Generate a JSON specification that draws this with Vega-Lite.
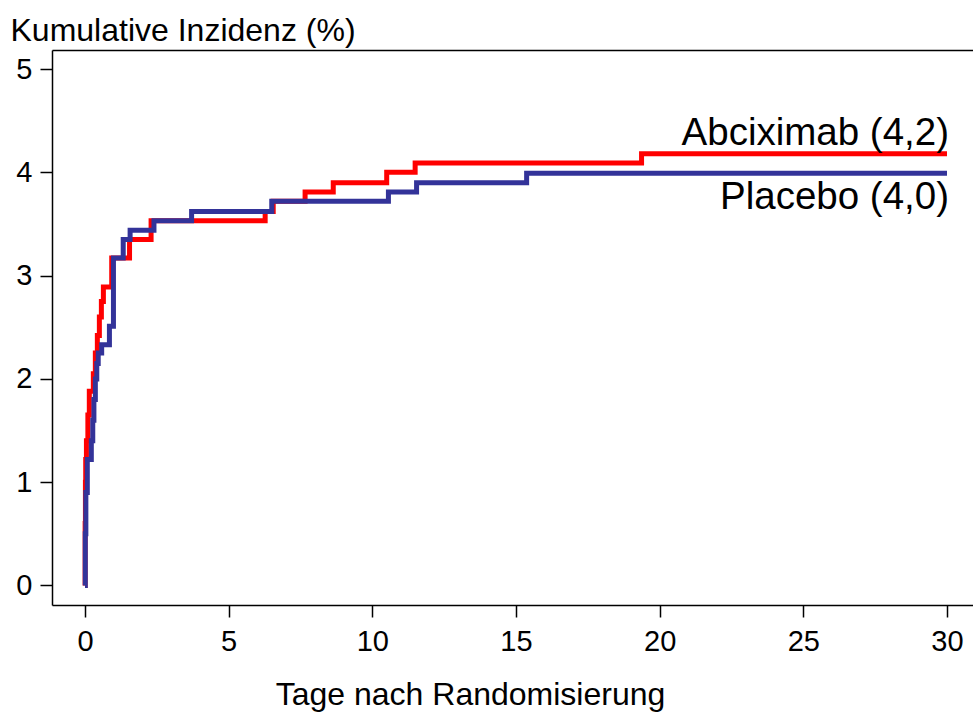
{
  "$schema": "https://vega.github.io/schema/vega-lite/v6.json",
  "width": 921,
  "height": 555,
  "autosize": "none",
  "padding": {"left": 52, "top": 50, "right": 0, "bottom": 107},
  "background": "white",
  "config": {
    "view": {"stroke": null},
    "font": "Liberation Sans",
    "axis": {
      "domainColor": "black",
      "domainWidth": 1.5,
      "tickColor": "black",
      "tickWidth": 1.5,
      "tickSize": 12,
      "labelColor": "black",
      "labelFontSize": 29,
      "labelFont": "Liberation Sans",
      "titleFont": "Liberation Sans",
      "titleColor": "black",
      "titleFontWeight": "normal",
      "titleFontSize": 32,
      "grid": false
    }
  },
  "datasets": {
    "curves": [
      {"group": "Abciximab", "day": 0, "pct": 0},
      {"group": "Abciximab", "day": 0.005, "pct": 0.6},
      {"group": "Abciximab", "day": 0.015, "pct": 1.0},
      {"group": "Abciximab", "day": 0.025, "pct": 1.22},
      {"group": "Abciximab", "day": 0.05, "pct": 1.4},
      {"group": "Abciximab", "day": 0.1, "pct": 1.65},
      {"group": "Abciximab", "day": 0.15, "pct": 1.88},
      {"group": "Abciximab", "day": 0.29, "pct": 2.05},
      {"group": "Abciximab", "day": 0.36, "pct": 2.25},
      {"group": "Abciximab", "day": 0.43, "pct": 2.42},
      {"group": "Abciximab", "day": 0.5, "pct": 2.6},
      {"group": "Abciximab", "day": 0.57, "pct": 2.75},
      {"group": "Abciximab", "day": 0.64, "pct": 2.89},
      {"group": "Abciximab", "day": 0.93, "pct": 3.17},
      {"group": "Abciximab", "day": 1.55, "pct": 3.35},
      {"group": "Abciximab", "day": 2.3, "pct": 3.53},
      {"group": "Abciximab", "day": 6.27, "pct": 3.62},
      {"group": "Abciximab", "day": 6.55, "pct": 3.72},
      {"group": "Abciximab", "day": 7.66, "pct": 3.81},
      {"group": "Abciximab", "day": 8.64, "pct": 3.9},
      {"group": "Abciximab", "day": 10.5, "pct": 4.0},
      {"group": "Abciximab", "day": 11.49, "pct": 4.09},
      {"group": "Abciximab", "day": 19.37, "pct": 4.18},
      {"group": "Abciximab", "day": 30, "pct": 4.18},
      {"group": "Placebo", "day": 0, "pct": 0},
      {"group": "Placebo", "day": 0.01, "pct": 0.5},
      {"group": "Placebo", "day": 0.03, "pct": 0.9},
      {"group": "Placebo", "day": 0.08, "pct": 1.22},
      {"group": "Placebo", "day": 0.22, "pct": 1.4},
      {"group": "Placebo", "day": 0.27, "pct": 1.6},
      {"group": "Placebo", "day": 0.31, "pct": 1.8},
      {"group": "Placebo", "day": 0.36, "pct": 2.0},
      {"group": "Placebo", "day": 0.41, "pct": 2.15},
      {"group": "Placebo", "day": 0.46, "pct": 2.25},
      {"group": "Placebo", "day": 0.58, "pct": 2.33},
      {"group": "Placebo", "day": 0.85, "pct": 2.51},
      {"group": "Placebo", "day": 0.99, "pct": 3.17},
      {"group": "Placebo", "day": 1.33, "pct": 3.35},
      {"group": "Placebo", "day": 1.57, "pct": 3.44},
      {"group": "Placebo", "day": 2.4, "pct": 3.53},
      {"group": "Placebo", "day": 3.71, "pct": 3.62},
      {"group": "Placebo", "day": 6.5, "pct": 3.72},
      {"group": "Placebo", "day": 10.56, "pct": 3.81},
      {"group": "Placebo", "day": 11.54, "pct": 3.9},
      {"group": "Placebo", "day": 15.37, "pct": 3.99},
      {"group": "Placebo", "day": 30, "pct": 3.99}
    ],
    "labels": [
      {"group": "Abciximab", "label": "Abciximab (4,2)", "day": 30, "pct": 4.18},
      {"group": "Placebo", "label": "Placebo (4,0)", "day": 30, "pct": 3.99}
    ]
  },
  "resolve": {"axis": {"x": "independent"}},
  "layer": [
    {
      "data": {"name": "curves"},
      "mark": {"type": "line", "interpolate": "step-after", "strokeWidth": 5, "strokeCap": "butt", "strokeJoin": "miter"},
      "encoding": {
        "x": {
          "field": "day",
          "type": "quantitative",
          "scale": {"domain": [-1.1485, 30.905], "nice": false, "zero": false},
          "axis": {
            "orient": "bottom",
            "values": [0, 5, 10, 15, 20, 25, 30],
            "format": "d",
            "labelPadding": 10,
            "title": "Tage nach Randomisierung",
            "titleX": 418,
            "titleY": 99,
            "titleAlign": "center",
            "titleBaseline": "alphabetic",
            "titleAnchor": null
          }
        },
        "y": {
          "field": "pct",
          "type": "quantitative",
          "scale": {"domain": [-0.189, 5.184], "nice": false, "zero": false},
          "axis": {
            "values": [0, 1, 2, 3, 4, 5],
            "format": "d",
            "labelPadding": 8,
            "title": "Kumulative Inzidenz (%)",
            "titleAngle": 0,
            "titleAlign": "left",
            "titleBaseline": "alphabetic",
            "titleAnchor": null,
            "titleX": -42,
            "titleY": -10
          }
        },
        "color": {
          "field": "group",
          "type": "nominal",
          "scale": {"domain": ["Abciximab", "Placebo"], "range": ["#ff0000", "#333399"]},
          "legend": null
        }
      }
    },
    {
      "data": {"name": "labels"},
      "transform": [{"filter": "datum.group === 'Abciximab'"}],
      "mark": {"type": "text", "align": "right", "baseline": "alphabetic", "fontSize": 38.5, "dx": 2, "dy": -9, "color": "black", "font": "Liberation Sans"},
      "encoding": {
        "x": {
          "field": "day",
          "type": "quantitative",
          "axis": {"orient": "top", "labels": false, "ticks": false, "title": null, "domain": true}
        },
        "y": {"field": "pct", "type": "quantitative"},
        "text": {"field": "label"}
      }
    },
    {
      "data": {"name": "labels"},
      "transform": [{"filter": "datum.group === 'Placebo'"}],
      "mark": {"type": "text", "align": "right", "baseline": "alphabetic", "fontSize": 38.5, "dx": 2, "dy": 36, "color": "black", "font": "Liberation Sans"},
      "encoding": {
        "x": {"field": "day", "type": "quantitative", "axis": null},
        "y": {"field": "pct", "type": "quantitative"},
        "text": {"field": "label"}
      }
    }
  ]
}
